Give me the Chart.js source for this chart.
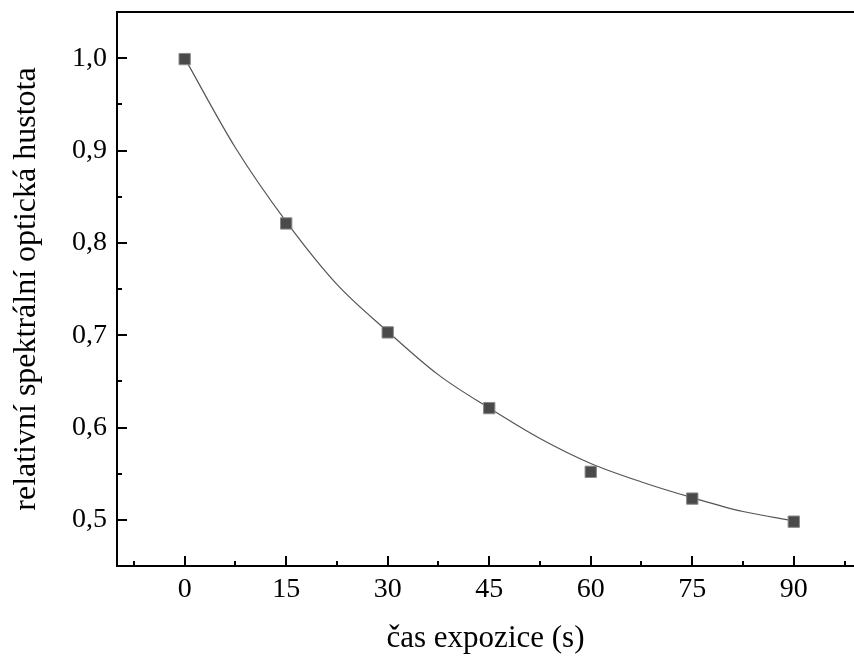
<!DOCTYPE html>
<html>
<head>
<meta charset="utf-8">
<script src="https://cdn.jsdelivr.net/npm/chart.js@4"></script>
<style>
    body { margin: 0; background: #fff; }
    canvas { display: block; }
</style>
</head>
<body>
<canvas id="chart" width="854" height="661"></canvas>
<script>
// measured points
const expoTime = [0, 15, 30, 45, 60, 75, 90]
const density = [0.999, 0.821, 0.703, 0.621, 0.552, 0.523, 0.498]

// fitted curve
const fitTime = [0, 7.5, 15, 22.5, 30, 37.5, 45, 52.5, 60, 67.5, 75, 82.5, 90]
const fitDensity = [1.0, 0.903, 0.823, 0.755, 0.704, 0.657, 0.621, 0.588, 0.561, 0.541, 0.524, 0.509, 0.499]

// axis ticks
const xMajorTicks = [0, 15, 30, 45, 60, 75, 90]
const xMinorTicks = [-7.5, 7.5, 22.5, 37.5, 52.5, 67.5, 82.5, 97.5]
const yMajorTicks = [0.5, 0.6, 0.7, 0.8, 0.9, 1.0]
const yMinorTicks = [0.55, 0.65, 0.75, 0.85, 0.95]

const serif = "'Liberation Serif', 'DejaVu Serif', serif"

// no extra room for half labels, the frame sits where Origin put it
const noPadding = (scale) => {
    scale.paddingTop = 0
    scale.paddingBottom = 0
    scale.paddingLeft = 0
    scale.paddingRight = 0
}

// inward tick marks, Origin style
const tickMarks = {
    id: "tickMarks",
    afterDraw(chart) {
        const { ctx, chartArea, scales } = chart
        ctx.save()
        ctx.strokeStyle = "#000"
        ctx.lineWidth = 2
        const xTick = (v, len) => {
            const px = Math.round(scales.x.getPixelForValue(v))
            ctx.beginPath()
            ctx.moveTo(px, chartArea.bottom)
            ctx.lineTo(px, chartArea.bottom - len)
            ctx.stroke()
        }
        const yTick = (v, len) => {
            const py = Math.round(scales.y.getPixelForValue(v))
            ctx.beginPath()
            ctx.moveTo(chartArea.left, py)
            ctx.lineTo(chartArea.left + len, py)
            ctx.stroke()
        }
        xMajorTicks.forEach((v) => xTick(v, 10))
        xMinorTicks.forEach((v) => xTick(v, 5))
        yMajorTicks.forEach((v) => yTick(v, 10))
        yMinorTicks.forEach((v) => yTick(v, 5))
        ctx.restore()
    },
}

new Chart(document.getElementById("chart"), {
    type: "scatter",
    data: {
        datasets: [
            {
                label: "měření",
                data: expoTime.map((t, i) => ({ x: t, y: density[i] })),
                pointStyle: "rect",
                pointRadius: 8,
                pointBackgroundColor: "#4a4a4a",
                pointBorderColor: "#8a8a8a",
                pointBorderWidth: 1,
                showLine: false,
                order: 1,
            },
            {
                label: "fit",
                data: fitTime.map((t, i) => ({ x: t, y: fitDensity[i] })),
                showLine: true,
                borderColor: "#555",
                borderWidth: 1.2,
                pointRadius: 0,
                cubicInterpolationMode: "monotone",
                order: 2,
            },
        ],
    },
    options: {
        responsive: false,
        animation: false,
        layout: { padding: 0, autoPadding: false },
        plugins: {
            legend: { display: false },
            tooltip: { enabled: false },
        },
        scales: {
            x: {
                type: "linear",
                position: "bottom",
                min: -10,
                max: 98.9,
                afterBuildTicks: (scale) => {
                    scale.ticks = xMajorTicks.map((v) => ({ value: v }))
                },
                afterFit: (scale) => {
                    scale.height = 95
                    noPadding(scale)
                },
                grid: { display: true, drawOnChartArea: false, drawTicks: false },
                border: { display: true, color: "#000", width: 2 },
                ticks: {
                    padding: 7,
                    color: "#000",
                    maxRotation: 0,
                    font: { family: serif, size: 28 },
                },
                title: {
                    display: true,
                    text: "čas expozice (s)",
                    color: "#000",
                    font: { family: serif, size: 31 },
                    padding: { top: 4, bottom: 4 },
                },
            },
            xTop: {
                type: "linear",
                position: "top",
                min: -10,
                max: 98.9,
                afterFit: (scale) => {
                    scale.height = 12
                    noPadding(scale)
                },
                grid: { display: false },
                border: { display: true, color: "#000", width: 2 },
                ticks: { display: false },
            },
            y: {
                type: "linear",
                min: 0.45,
                max: 1.05,
                afterBuildTicks: (scale) => {
                    scale.ticks = yMajorTicks.map((v) => ({ value: v }))
                },
                afterFit: (scale) => {
                    scale.width = 117
                    noPadding(scale)
                },
                grid: { display: true, drawOnChartArea: false, drawTicks: false },
                border: { display: true, color: "#000", width: 2 },
                ticks: {
                    padding: 10,
                    color: "#000",
                    font: { family: serif, size: 28 },
                    callback: (value) => value.toFixed(1).replace(".", ","),
                },
                title: {
                    display: true,
                    text: "relativní spektrální optická hustota",
                    color: "#000",
                    font: { family: serif, size: 32 },
                    padding: { top: 7, bottom: 7 },
                },
            },
        },
    },
    plugins: [tickMarks],
})
</script>
</body>
</html>
